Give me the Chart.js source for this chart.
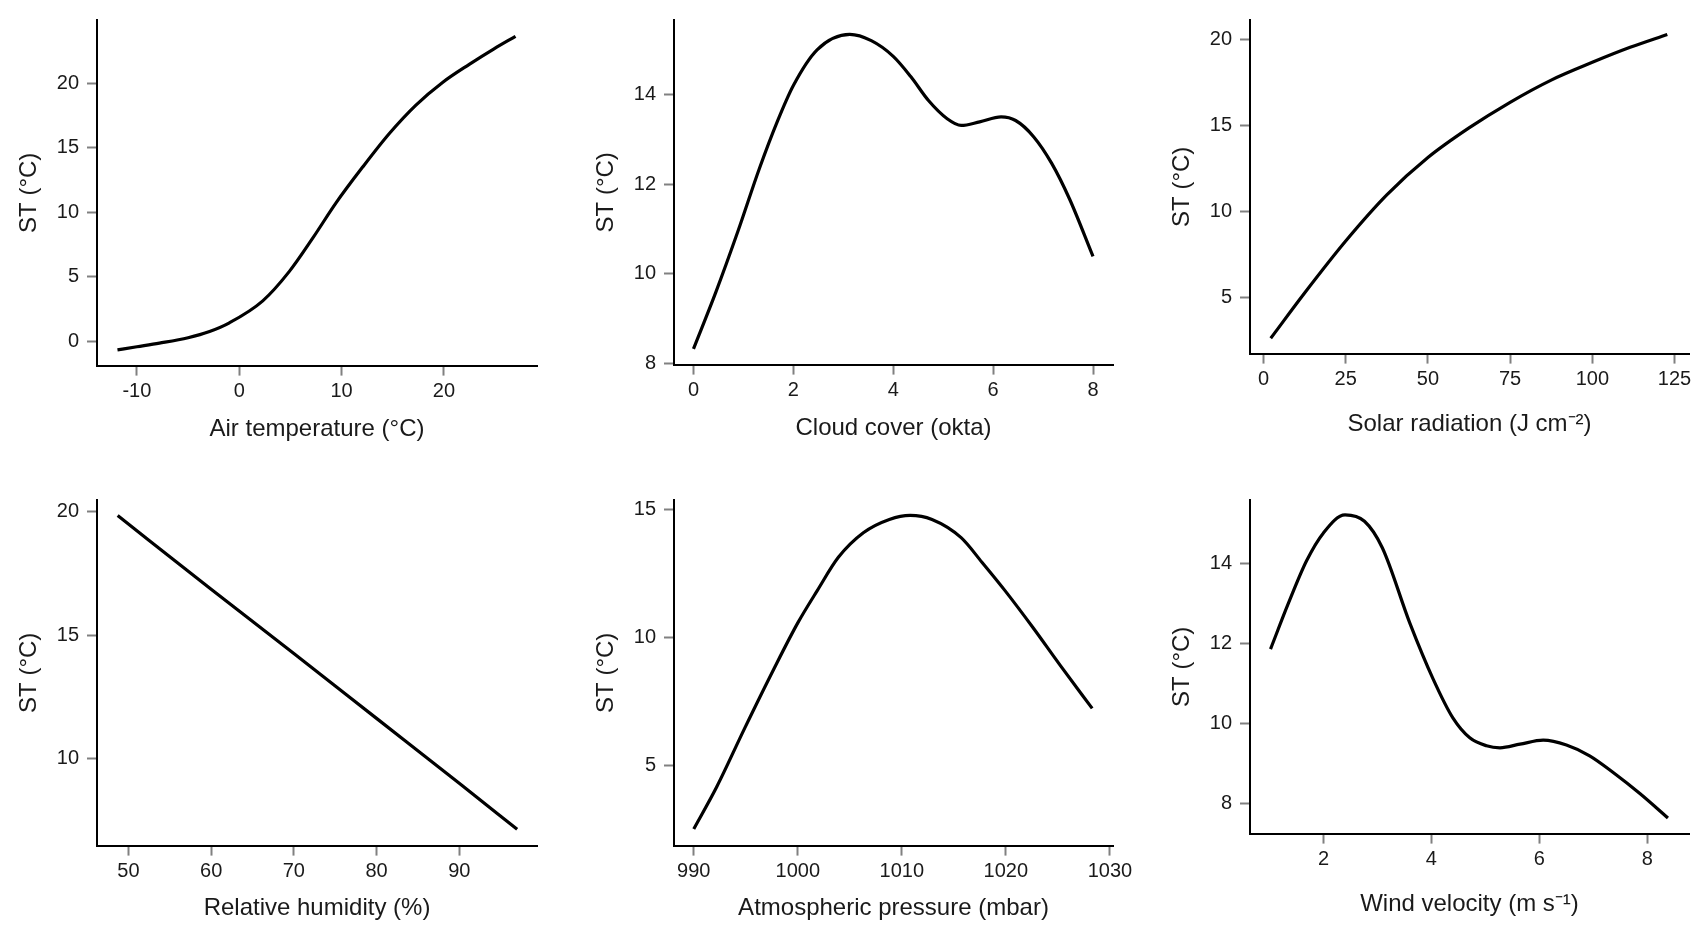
<!DOCTYPE html>
<html lang="en">
<head>
    <meta charset="UTF-8">
    <title>Soil temperature response curves</title>
    <script src="https://cdn.jsdelivr.net/npm/chart.js"></script>
    <style>
        body {
            margin: 0;
            background: #fff;
            width: 1696px;
            height: 925px;
            overflow: hidden;
            position: relative;
        }
        canvas {
            position: absolute;
        }
    </style>
</head>
<body>
    <canvas id="airChart"></canvas>
    <canvas id="cloudChart"></canvas>
    <canvas id="solarChart"></canvas>
    <canvas id="humidityChart"></canvas>
    <canvas id="pressureChart"></canvas>
    <canvas id="windChart"></canvas>

    <script>
        // values
        const airTemp = [-11.9, -10, -7.8, -5.0, -2.9, -0.96, 2.3, 4.9, 7.18, 9.46, 12.06, 14.67, 17.27, 19.87, 22.48, 24.9, 27.0];
        const airTempST = [-0.64, -0.4, -0.12, 0.3, 0.78, 1.45, 3.15, 5.43, 8.0, 10.73, 13.5, 16.1, 18.3, 20.05, 21.45, 22.65, 23.62];

        const cloud = [0, 0.45, 0.89, 1.32, 1.68, 2, 2.48, 3.13, 3.56, 4, 4.35, 4.71, 5.08, 5.36, 5.73, 6.16, 6.45, 6.81, 7.17, 7.53, 8];
        const cloudST = [8.33, 9.6, 10.95, 12.35, 13.4, 14.2, 15.0, 15.34, 15.2, 14.85, 14.4, 13.86, 13.46, 13.31, 13.39, 13.5, 13.42, 13.06, 12.47, 11.67, 10.39];

        const solar = [2.2, 12.5, 25, 37.5, 50, 62.5, 75, 87.5, 100, 111.5, 122.8];
        const solarST = [2.65, 5.28, 8.3, 10.98, 13.15, 14.87, 16.36, 17.65, 18.68, 19.55, 20.3];

        const humidity = [48.7, 60, 70, 80, 90, 97];
        const humidityST = [19.84, 16.86, 14.26, 11.63, 9.0, 7.14];

        const pressure = [990, 992.2, 994.9, 997.7, 1000, 1001.9, 1003.9, 1006.3, 1008.8, 1010.8, 1012.9, 1015.7, 1017.7, 1019.9, 1022.6, 1025.3, 1028.3];
        const pressureST = [2.53, 4.17, 6.47, 8.78, 10.58, 11.86, 13.14, 14.1, 14.62, 14.78, 14.62, 13.91, 12.95, 11.85, 10.4, 8.88, 7.24];

        const wind = [1.02, 1.35, 1.69, 2, 2.4, 2.76, 3.09, 3.6, 4.03, 4.4, 4.71, 5.02, 5.27, 5.64, 6.07, 6.5, 6.93, 7.36, 7.86, 8.38];
        const windST = [11.86, 13.0, 14.07, 14.76, 15.21, 15.05, 14.39, 12.51, 11.12, 10.14, 9.65, 9.45, 9.4, 9.49, 9.59, 9.47, 9.2, 8.79, 8.26, 7.65];

        // tick labels
        const airTempTicks = [-10, 0, 10, 20];
        const airTempSTTicks = [0, 5, 10, 15, 20];
        const cloudTicks = [0, 2, 4, 6, 8];
        const cloudSTTicks = [8, 10, 12, 14];
        const solarTicks = [0, 25, 50, 75, 100, 125];
        const solarSTTicks = [5, 10, 15, 20];
        const humidityTicks = [50, 60, 70, 80, 90];
        const humiditySTTicks = [10, 15, 20];
        const pressureTicks = [990, 1000, 1010, 1020, 1030];
        const pressureSTTicks = [5, 10, 15];
        const windTicks = [2, 4, 6, 8];
        const windSTTicks = [8, 10, 12, 14];

        const yTitle = 'ST (°C)';
        const FONT = "'Liberation Sans', Arial, sans-serif";
        const INK = '#1a1a1a';

        // plot box = [left, top, right, bottom] of each panel in page pixels
        const panels = [
            { id: 'airChart', xs: airTemp, ys: airTempST, xTicks: airTempTicks, yTicks: airTempSTTicks,
              xTitle: 'Air temperature (°C)', box: [97, 15, 537, 366], xRange: [-13.9, 29.1], yRange: [-1.86, 24.88], gap: 64 },
            { id: 'cloudChart', xs: cloud, ys: cloudST, xTicks: cloudTicks, yTicks: cloudSTTicks,
              xTitle: 'Cloud cover (okta)', box: [674, 15, 1113, 365], xRange: [-0.39, 8.4], yRange: [7.98, 15.66], gap: 64 },
            { id: 'solarChart', xs: solar, ys: solarST, xTicks: solarTicks, yTicks: solarSTTicks,
              xTitle: 'Solar radiation (J cm⁻²)', box: [1250, 15, 1689, 354], xRange: [-4.1, 129.4], yRange: [1.76, 21.14], gap: 71 },
            { id: 'humidityChart', xs: humidity, ys: humidityST, xTicks: humidityTicks, yTicks: humiditySTTicks,
              xTitle: 'Relative humidity (%)', box: [97, 495, 537, 846], xRange: [46.2, 99.4], yRange: [6.48, 20.47], gap: 63 },
            { id: 'pressureChart', xs: pressure, ys: pressureST, xTicks: pressureTicks, yTicks: pressureSTTicks,
              xTitle: 'Atmospheric pressure (mbar)', box: [674, 495, 1113, 846], xRange: [988.1, 1030.3], yRange: [1.88, 15.38], gap: 63 },
            { id: 'windChart', xs: wind, ys: windST, xTicks: windTicks, yTicks: windSTTicks,
              xTitle: 'Wind velocity (m s⁻¹)', box: [1250, 495, 1689, 834], xRange: [0.64, 8.77], yRange: [7.26, 15.58], gap: 71 }
        ];

        function axisStyle(tickValues, titleText, size) {
            return {
                type: 'linear',
                afterBuildTicks: s => { s.ticks = tickValues.map(v => ({ value: v })); },
                afterFit: size,
                border: { display: true, color: '#000', width: 2 },
                grid: { drawOnChartArea: false, tickLength: 10, tickWidth: 2, tickColor: '#808080' },
                ticks: { color: INK, font: { family: FONT, size: 20 }, maxRotation: 0, autoSkip: false,
                         callback: v => String(v) },
                title: { display: true, text: titleText, color: INK, font: { family: FONT, size: 24 }, padding: 0 }
            };
        }

        panels.forEach(p => {
            const [L, T, R, B] = p.box;
            const yWidth = 82;
            const xHeight = p.gap + 14.4;
            const padTop = 15;
            const padRight = Math.min(30, 1696 - R);

            const canvas = document.getElementById(p.id);
            canvas.width = R - L + yWidth + padRight;
            canvas.height = B - T + xHeight + padTop;
            canvas.style.left = (L - yWidth) + 'px';
            canvas.style.top = (T - padTop) + 'px';

            const xAxis = axisStyle(p.xTicks, p.xTitle, s => { s.height = xHeight; });
            xAxis.min = p.xRange[0];
            xAxis.max = p.xRange[1];
            xAxis.ticks.padding = 4;

            const yAxis = axisStyle(p.yTicks, yTitle, s => { s.width = yWidth; });
            yAxis.min = p.yRange[0];
            yAxis.max = p.yRange[1];
            yAxis.ticks.padding = 8;

            new Chart(canvas, {
                type: 'line',
                data: {
                    datasets: [{
                        data: p.xs.map((x, i) => ({ x: x, y: p.ys[i] })),
                        borderColor: '#000',
                        borderWidth: 3.2,
                        pointRadius: 0,
                        fill: false,
                        cubicInterpolationMode: 'monotone'
                    }]
                },
                options: {
                    responsive: false,
                    animation: false,
                    events: [],
                    layout: { padding: { top: padTop, right: padRight, left: 0, bottom: 0 } },
                    plugins: { legend: { display: false }, tooltip: { enabled: false } },
                    scales: { x: xAxis, y: yAxis }
                }
            });
        });
    </script>
</body>
</html>
